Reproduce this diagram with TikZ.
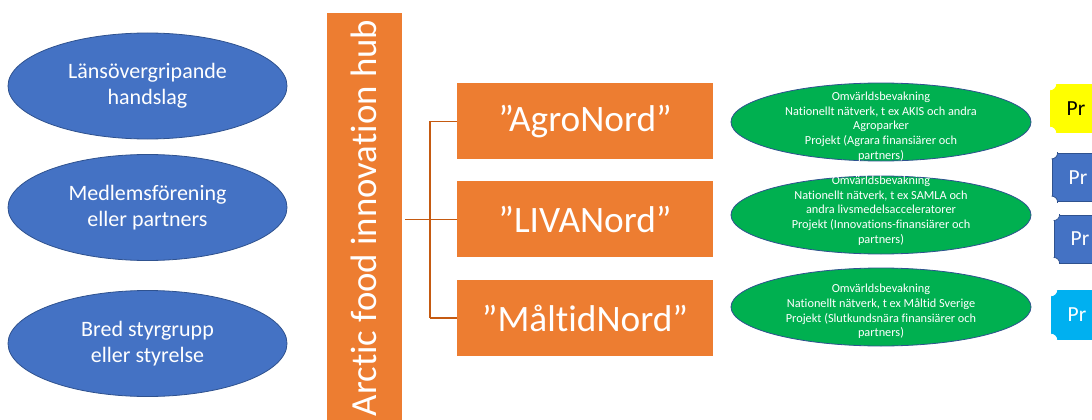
\documentclass[tikz,border=0pt]{standalone}
\usepackage{fontspec}
\setmainfont[Ligatures={NoCommon}]{Carlito}
\usetikzlibrary{shapes.geometric}
\definecolor{ofblue}{HTML}{4472C4}
\definecolor{ofborder}{HTML}{2F528F}
\definecolor{oforange}{HTML}{ED7D31}
\definecolor{ofgreen}{HTML}{00B050}
\definecolor{ofconn}{HTML}{C55A11}
\definecolor{ofyellow}{HTML}{FFFF00}
\definecolor{ofcyan}{HTML}{00B0F0}
\tikzset{
  blueell/.style={ellipse, fill=ofblue, draw=ofborder, line width=0.8pt,
    minimum width=279pt, minimum height=106pt, inner sep=0pt, text=white,
    align=center, font=\fontsize{22}{26.5}\selectfont},
  orangebox/.style={rectangle, fill=oforange, minimum width=256.6pt,
    minimum height=76pt, inner sep=0pt, text=white,
    font=\fontsize{37.3}{42}\selectfont},
  hubbar/.style={rectangle, fill=oforange, minimum width=74.4pt,
    minimum height=430pt, inner sep=0pt},
  hubtext/.style={rotate=90, text=white, inner sep=0pt,
    font=\fontsize{36.8}{42}\selectfont},
  greenell/.style={ellipse, fill=ofgreen, draw=ofborder, line width=0.8pt,
    minimum width=300pt, minimum height=78pt, inner sep=0pt},
  greentext/.style={text=white, align=center, inner sep=0pt,
    font=\fontsize{12.3}{14.7}\selectfont},
  conn/.style={draw=ofconn, line width=1.4pt},
  plaque/.style={rectangle, minimum width=52pt, inner sep=0pt,
    font=\fontsize{21.5}{24}\selectfont},
}
\begin{document}
\begin{tikzpicture}[x=1pt,y=-1pt]
\useasboundingbox (0,0) rectangle (1092,420);
\begin{scope}
\clip (0,0) rectangle (1092,420);
\fill[white] (0,0) rectangle (1092,420);

% left blue ellipses
\node[blueell] (e1) at (147.5,86) {Länsövergripande\\handslag};
\node[blueell] (e2) at (147.5,207.5) {Medlemsförening\\eller partners};
\node[blueell] (e3) at (147.5,343.5) {Bred styrgrupp\\eller styrelse};

% hub bar
\node[hubbar] (bar) at (364.5,228) {};
\node[hubtext] (hub) at (363.5,218) {Arctic food innovation hub};

% orange boxes
\node[orangebox] (agro) at (585,121.3) {”AgroNord”};
\node[orangebox] (liva) at (585,219.2) {”LIVANord”};
\node[orangebox] (malt) at (585,318) {”MåltidNord”};

% connectors
\coordinate (j) at (430,219.3);
\coordinate (bs) at (405,219.3);
\draw[conn] (bs) -- (j);
\draw[conn] (j |- agro.west) -- (j |- malt.west);
\draw[conn] (j |- agro.west) -- (agro.west);
\draw[conn] (j |- liva.west) -- (liva.west);
\draw[conn] (j |- malt.west) -- (malt.west);

% green ellipses
\node[greenell] (g1) at (881,122) {};
\node[greenell] (g2) at (881,215) {};
\node[greenell] (g3) at (881,307) {};
\node[greentext] (t1) at (881,126.5) {Omvärldsbevakning\\Nationellt nätverk, t ex AKIS och andra\\Agroparker\\Projekt (Agrara finansiärer och\\partners)};
\node[greentext] (t2) at (881,210.5) {Omvärldsbevakning\\Nationellt nätverk, t ex SAMLA och\\andra livsmedelsacceleratorer\\Projekt (Innovations-finansiärer och\\partners)};
\node[greentext] (t3) at (881,311.5) {Omvärldsbevakning\\Nationellt nätverk, t ex Måltid Sverige\\Projekt (Slutkundsnära finansiärer och\\partners)};

% plaques
\node[plaque, fill=ofyellow, minimum height=49pt, text=black] (p1) at (1076,108.5) {Pr};
\node[plaque, fill=ofblue, draw=ofborder, line width=0.8pt, minimum height=48.4pt, text=white] (p2) at (1078,177.5) {Pr};
\node[plaque, fill=ofblue, draw=ofborder, line width=0.8pt, minimum height=48pt, text=white] (p3) at (1080,239) {Pr};
\node[plaque, fill=ofcyan, minimum height=50pt, text=white] (p4) at (1077,315) {Pr};
\foreach \p/\bc in {p1/white, p2/ofborder, p3/ofborder, p4/white}{
  \begin{scope}
    \clip (\p.south west) rectangle (\p.north east);
    \foreach \a in {north west, south west, north east, south east}{
      \filldraw[fill=white, draw=\bc, line width=0.8pt] (\p.\a) circle (6pt);
    }
  \end{scope}
}
\end{scope}
\end{tikzpicture}
\end{document}
